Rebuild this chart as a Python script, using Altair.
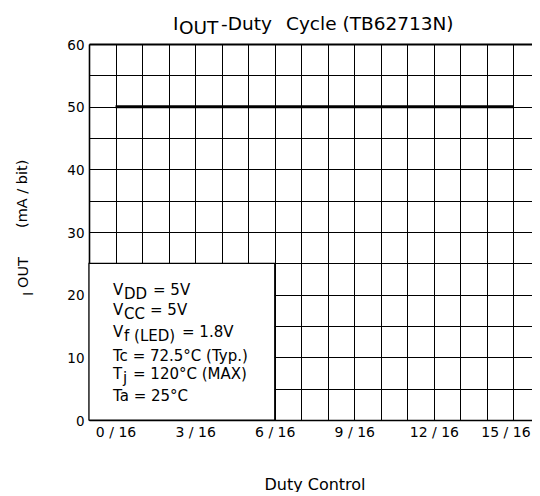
import altair as alt
import pandas as pd

# ---- data ----
duty = [0, 15]            # duty control (x/16) where the curve is drawn
iout = [50, 50]           # IOUT (mA/bit)
x_grid = list(range(-1, 16))
x_labels = [0, 3, 6, 9, 12, 15]
y_grid = list(range(0, 61, 5))
box_x, box_x2, box_y, box_y2 = [-1], [6], [0], [25]

FONT = "DejaVu Sans"

# ---- annotation layout (text pieces, pixel positions inside the plot frame) ----
OX, OY = 89, 44  # plot origin on the page
title_parts = [("I", 173, 30), ("OUT", 179, 34), ("-Duty", 221, 30), ("Cycle (TB62713N)", 286, 30)]
box_parts = [
    ("V", 113, 295), ("DD", 124, 298.5), ("= 5V", 153, 295),
    ("V", 113, 315), ("CC", 124, 318.5), ("= 5V", 150, 315),
    ("V", 113, 337), ("f (LED)", 124, 340.5), ("= 1.8V", 182, 337),
    ("Tc = 72.5°C (Typ.)", 113, 361),
    ("T", 113, 379), ("j", 123, 382.5), ("= 120°C (MAX)", 133, 379),
    ("Ta = 25°C", 113, 401),
]
ytitle_parts = [("I", 33, 296), ("OUT", 28, 288), ("(mA / bit)", 27, 228)]


def parts_df(parts):
    return pd.DataFrame({"t": [p[0] for p in parts],
                         "px": [p[1] - OX for p in parts],
                         "py": [p[2] - OY for p in parts]})


# the frame runs on past the right edge of the picture, as in the reference
xscale = alt.Scale(domain=[-1, 16], range=[0, 451], nice=False, zero=False)
yscale = alt.Scale(domain=[0, 60], nice=False, zero=False)

box = alt.Chart(pd.DataFrame({"x0": box_x, "x1": box_x2, "y0": box_y, "y1": box_y2})).mark_rect(
    fill="white", stroke="black", strokeWidth=1.2
).encode(
    x=alt.X("x0:Q", scale=xscale, axis=alt.Axis(
        values=x_grid, tickCount=100, grid=True, ticks=False, gridColor="black", gridWidth=1,
        gridOpacity=1, domainColor="black", domainWidth=1.6,
        labelExpr="datum.value >= 0 && datum.value % 3 == 0 ? datum.value + ' / 16' : ''",
        labelFont=FONT, labelFontSize=14, labelColor="black", labelPadding=5,
        labelOffset={"condition": {"test": "datum.value == 15", "value": -8}, "value": 0},
        labelFlush=False, labelOverlap=False,
        title="Duty Control", titleFont=FONT, titleFontSize=16, titleFontWeight="normal",
        titleColor="black", titleY=69, titleBaseline="alphabetic")),
    x2="x1:Q",
    y=alt.Y("y0:Q", scale=yscale, axis=alt.Axis(
        values=y_grid, tickCount=100, grid=True, ticks=False, gridColor="black", gridOpacity=1,
        gridWidth={"condition": {"test": "datum.value == 60", "value": 1.8}, "value": 1},
        domainColor="black", domainWidth=1.6,
        labelExpr="datum.value % 10 == 0 ? datum.value : ''",
        labelFont=FONT, labelFontSize=13.5, labelColor="black", labelPadding=5,
        labelOffset=1, labelFlush=False, labelOverlap=False, title="")),
    y2="y1:Q",
)

line = alt.Chart(pd.DataFrame({"d": duty, "i": iout})).mark_line(
    color="black", strokeWidth=3
).encode(x=alt.X("d:Q", scale=xscale), y=alt.Y("i:Q", scale=yscale))


def text_layer(parts, size, angle=0):
    kw = dict(align="left", baseline="alphabetic", font=FONT, fontSize=size, color="black")
    if angle:
        kw["angle"] = angle
    return alt.Chart(parts_df(parts)).mark_text(**kw).encode(
        x=alt.X("px:Q", scale=None, axis=None),
        y=alt.Y("py:Q", scale=None, axis=None),
        text="t:N",
    )


chart = alt.layer(
    box, line,
    text_layer(box_parts, 15),
    text_layer(title_parts, 18.5),
    text_layer(ytitle_parts, 14.5, angle=270),
).properties(
    width=443, height=376,
    autosize=alt.AutoSizeParams(type="none"),
    padding={"left": 81, "top": 36, "right": 0, "bottom": 72},
).configure_view(strokeWidth=0)

chart.save("out.html", embed_options={"renderer": "svg", "actions": False})
